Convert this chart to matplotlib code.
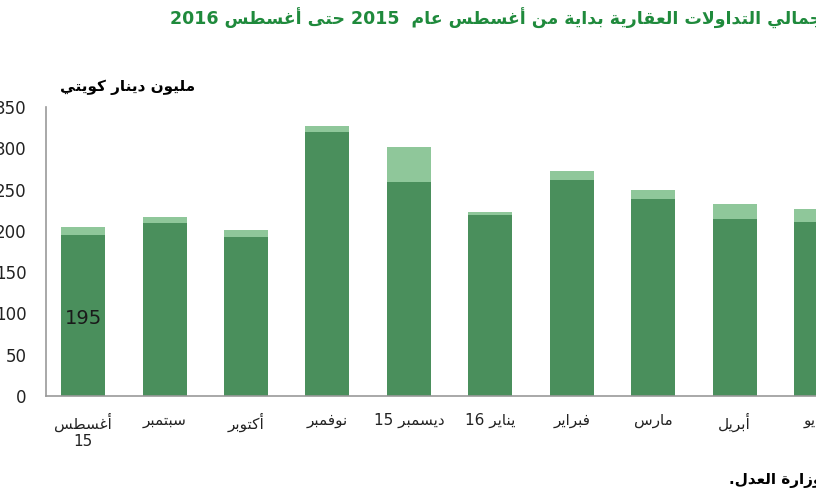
import matplotlib
matplotlib.use("Agg")
import matplotlib.pyplot as plt
import numpy as np

# --- datos ---
months = ["أغسطس\n15", "سبتمبر", "أكتوبر", "نوفمبر", "ديسمبر 15",
          "يناير 16", "فبراير", "مارس", "أبريل", "مايو"]
base_values = [195, 210, 193, 320, 259, 219, 261, 239, 214, 211]
total_values = [205, 217, 201, 327, 302, 223, 272, 249, 233, 227]
y_ticks = [0, 50, 100, 150, 200, 250, 300, 350]

title = "إجمالي التداولات العقارية بداية من أغسطس عام  2015 حتى أغسطس 2016"
unit_label = "مليون دينار كويتي"
source = "المصدر: وزارة العدل."

# formas de presentación: (aislada, final, inicial, medial)
FORMS = {
    "ا": (0xFE8D, 0xFE8E), "أ": (0xFE83, 0xFE84), "إ": (0xFE87, 0xFE88),
    "ة": (0xFE93, 0xFE94), "د": (0xFEA9, 0xFEAA), "ذ": (0xFEAB, 0xFEAC),
    "ر": (0xFEAD, 0xFEAE), "ز": (0xFEAF, 0xFEB0), "و": (0xFEED, 0xFEEE),
    "ى": (0xFEEF, 0xFEF0),
}
for ch, start in [("ب", 0xFE8F), ("ت", 0xFE95), ("ث", 0xFE99), ("ج", 0xFE9D),
                  ("ح", 0xFEA1), ("خ", 0xFEA5), ("س", 0xFEB1), ("ش", 0xFEB5),
                  ("ص", 0xFEB9), ("ض", 0xFEBD), ("ط", 0xFEC1), ("ظ", 0xFEC5),
                  ("ع", 0xFEC9), ("غ", 0xFECD), ("ف", 0xFED1), ("ق", 0xFED5),
                  ("ك", 0xFED9), ("ل", 0xFEDD), ("م", 0xFEE1), ("ن", 0xFEE5),
                  ("ه", 0xFEE9), ("ي", 0xFEF1)]:
    FORMS[ch] = (start, start + 1, start + 2, start + 3)
LAM_ALEF = {"ا": (0xFEFB, 0xFEFC), "أ": (0xFEF7, 0xFEF8)}


def shape_line(text):
    chars = list(text)
    out = []
    i = 0
    while i < len(chars):
        c = chars[i]
        if c not in FORMS:
            out.append(c)
            i += 1
            continue
        prev = chars[i - 1] if i > 0 else ""
        joins_prev = prev in FORMS and len(FORMS[prev]) == 4
        if c == "ل" and i + 1 < len(chars) and chars[i + 1] in LAM_ALEF:
            f = LAM_ALEF[chars[i + 1]]
            out.append(chr(f[1] if joins_prev else f[0]))
            i += 2
            continue
        nxt = chars[i + 1] if i + 1 < len(chars) else ""
        f = FORMS[c]
        joins_next = len(f) == 4 and nxt in FORMS
        if joins_prev and joins_next:
            g = f[3]
        elif joins_prev:
            g = f[1]
        elif joins_next:
            g = f[2]
        else:
            g = f[0]
        out.append(chr(g))
        i += 1
    # invertir, manteniendo los números en orden
    runs = []
    for ch in out:
        is_digit = ch.isdigit()
        if runs and runs[-1][0] == is_digit and is_digit:
            runs[-1][1] += ch
        else:
            runs.append([is_digit, ch])
    return "".join(r[1] for r in reversed(runs))


def ar(text):
    return "\n".join(shape_line(l) for l in text.split("\n"))


dark = "#4a8f5c"
light = "#8fc79a"

fig = plt.figure(figsize=(8.16, 5.0), dpi=100)
ax = fig.add_axes([0.056, 0.208, 0.944, 0.578])

x = np.arange(len(months))
light_values = [t - b for t, b in zip(total_values, base_values)]
ax.bar(x, base_values, width=0.54, color=dark)
ax.bar(x, light_values, width=0.54, bottom=base_values, color=light)

ax.set_xlim(-0.46, 7.85)
ax.set_ylim(0, 350)
ax.set_yticks(y_ticks)
ax.set_yticklabels([str(v) for v in y_ticks], fontsize=12, color="#222222")
ax.tick_params(axis="y", length=0, pad=14)
ax.tick_params(axis="x", length=0, pad=12)
ax.set_xticks(x)
ax.set_xticklabels([ar(m) for m in months], fontsize=11, color="#222222")

for s in ["top", "right"]:
    ax.spines[s].set_visible(False)
ax.spines["left"].set_color("#999999")
ax.spines["bottom"].set_color("#999999")
ax.spines["left"].set_linewidth(1.2)
ax.spines["bottom"].set_linewidth(1.2)

ax.text(x[0], 94, str(base_values[0]), ha="center", va="center",
        fontsize=14, color="#1a1a1a")

fig.text(0.208, 0.964, ar(title), ha="left", va="center", fontsize=12.5,
         fontweight="bold", color="#1f8a3c")
fig.text(0.073, 0.826, ar(unit_label), ha="left", va="center", fontsize=11,
         fontweight="bold", color="black")
fig.text(0.893, 0.04, ar(source), ha="left", va="center", fontsize=11,
         fontweight="bold", color="black")

fig.savefig("out.png", dpi=100, facecolor="white")
